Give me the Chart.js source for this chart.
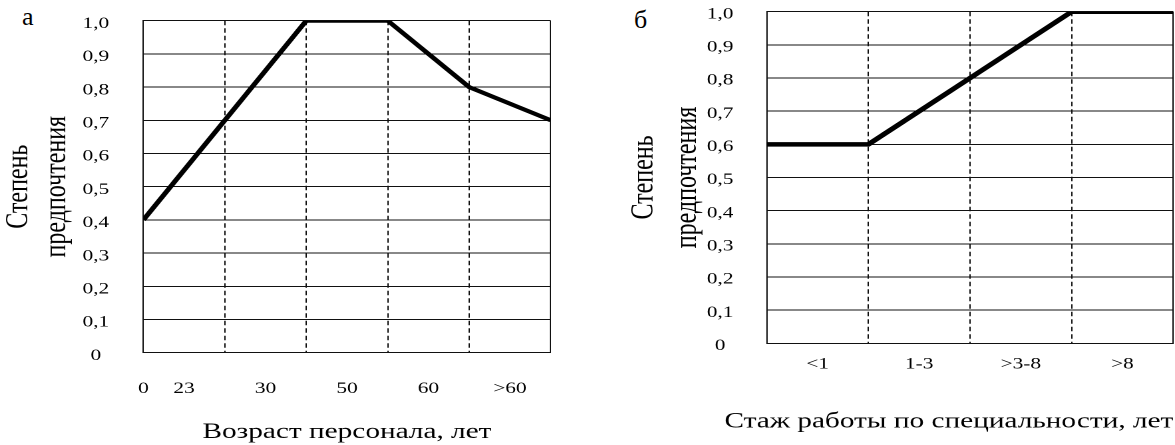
<!DOCTYPE html>
<html lang="ru">
<head>
<meta charset="utf-8">
<title>Степень предпочтения</title>
<script src="https://cdn.jsdelivr.net/npm/chart.js@4.4.1/dist/chart.umd.min.js"></script>
<style>
  html, body { margin: 0; padding: 0; background: #fff; }
  body { width: 1175px; height: 445px; position: relative; overflow: hidden; font-family: "Liberation Serif", serif; }
  canvas { position: absolute; top: 0; }
  .panel-label { position: absolute; font-size: 26px; line-height: 26px; color: #000; }
</style>
</head>
<body>
<div class="panel-label" style="left:22px; top:4px">а</div>
<div class="panel-label" style="left:634px; top:7px">б</div>
<!-- the source picture is stretched sideways, so each canvas is drawn narrow and widened by css -->
<canvas id="ageChart" width="441" height="445" style="left:0; width:587px; height:445px"></canvas>
<canvas id="expChart" width="441" height="445" style="left:588px; width:587px; height:445px"></canvas>
<script>
'use strict'

const yTickLabels = ['0', '0,1', '0,2', '0,3', '0,4', '0,5', '0,6', '0,7', '0,8', '0,9', '1,0'];
const yTitle = ['Степень', 'предпочтения'];

// а: age
const ageLabels = ['0', '23', '30', '50', '60', '>60'];
const ageLabelPos = [0, 0.5, 1.5, 2.5, 3.5, 4.5];
const ageValues = [0.4, 0.7, 1.0, 1.0, 0.8, 0.7];

// б: experience
const expLabels = ['<1', '1-3', '>3-8', '>8'];
const expLabelPos = [0.5, 1.5, 2.5, 3.5];
const expValues = [0.6, 0.6, 0.8, 1.0, 1.0];

const SERIF = '"Liberation Serif", "Times New Roman", serif';
const INK = '#111';
const X_TITLE_SIZE = 22;

const preferenceChart = (id, p) => {
    const last = p.values.length - 1;
    const titleHeight = X_TITLE_SIZE + p.xTitlePad;
    return new Chart(document.getElementById(id), {
        type: 'line',
        data: {
            datasets: [
                {
                    data: p.values.map((v, i) => ({ x: i, y: v })),
                    borderColor: '#000',
                    borderWidth: p.lineWidth,
                    borderJoinStyle: 'miter',
                    pointRadius: 0,
                    tension: 0,
                    fill: false
                },
            ],
        },
        options: {
            responsive: false,
            animation: false,
            devicePixelRatio: 2,
            events: [],
            layout: {
                padding: { left: 0, top: p.top, right: p.right, bottom: 0 }
            },
            plugins: {
                legend: { display: false },
                tooltip: { enabled: false },
                // chart title instead of the axis title: the long caption is wider than the plot
                title: {
                    display: true,
                    text: p.xTitle,
                    position: 'bottom',
                    align: p.xTitleAlign,
                    fullSize: p.xTitleFull,
                    color: '#000',
                    font: { family: SERIF, size: X_TITLE_SIZE, lineHeight: 1, weight: 'normal' },
                    padding: { top: 0, bottom: p.xTitlePad }
                }
            },
            scales: {
                x: {
                    type: 'linear',
                    min: 0,
                    max: last,
                    ticks: { display: false, stepSize: 1 },
                    grid: { color: INK, lineWidth: 1, drawTicks: false },
                    border: {
                        color: INK,
                        dash: (c) => (c.tick && c.tick.value > 0 && c.tick.value < last) ? [4.5, 3] : []
                    },
                    afterFit: (s) => { s.height = 0; }
                },
                xl: {
                    type: 'linear',
                    position: 'bottom',
                    min: 0,
                    max: last,
                    afterBuildTicks: (s) => { s.ticks = p.labelPos.map(v => ({ value: v })); },
                    ticks: {
                        callback: (v, i) => p.labels[i],
                        autoSkip: false,
                        maxRotation: 0,
                        padding: p.xPad,
                        color: '#000',
                        font: { family: SERIF, size: 16 }
                    },
                    grid: { display: false, drawTicks: false },
                    border: { display: false },
                    afterFit: (s) => { s.height = p.xHeight - titleHeight; }
                },
                y: {
                    min: 0,
                    max: 1,
                    ticks: {
                        stepSize: 0.1,
                        callback: (v, i) => yTickLabels[i],
                        crossAlign: 'center',
                        padding: 0,
                        labelOffset: p.yLabelOffset,
                        color: '#000',
                        font: { family: SERIF, size: 16 }
                    },
                    // invisible tick marks keep the labels away from the plot
                    grid: { color: INK, lineWidth: 1, drawTicks: true, tickLength: p.yGap, tickColor: 'transparent' },
                    border: { color: INK, width: 1 },
                    title: {
                        display: true,
                        text: yTitle,
                        color: '#000',
                        font: { family: SERIF, size: 24, lineHeight: p.titleLH },
                        padding: { top: p.yTitlePad, bottom: 0 }
                    },
                    afterFit: (s) => { s.width = p.yWidth; }
                }
            },
        },
    });
};

preferenceChart('ageChart', {
    values: ageValues, labels: ageLabels, labelPos: ageLabelPos,
    xTitle: 'Возраст персонала, лет', xTitleAlign: 'center', xTitleFull: false,
    lineWidth: 4, top: 20.7, right: 27.3, yWidth: 107.7, yGap: 25.7, yLabelOffset: 3,
    yTitlePad: 0, titleLH: 1.19, xHeight: 92.3, xPad: 26.4, xTitlePad: 1.8
});

preferenceChart('expChart', {
    values: expValues, labels: expLabels, labelPos: expLabelPos,
    xTitle: 'Стаж работы по специальности, лет', xTitleAlign: 'end', xTitleFull: true,
    lineWidth: 4.5, top: 11.7, right: 1.3, yWidth: 134.3, yGap: 25, yLabelOffset: 2.5,
    yTitlePad: 26, titleLH: 1.346, xHeight: 101.7, xPad: 11.6, xTitlePad: 12.4
});
</script>
</body>
</html>
